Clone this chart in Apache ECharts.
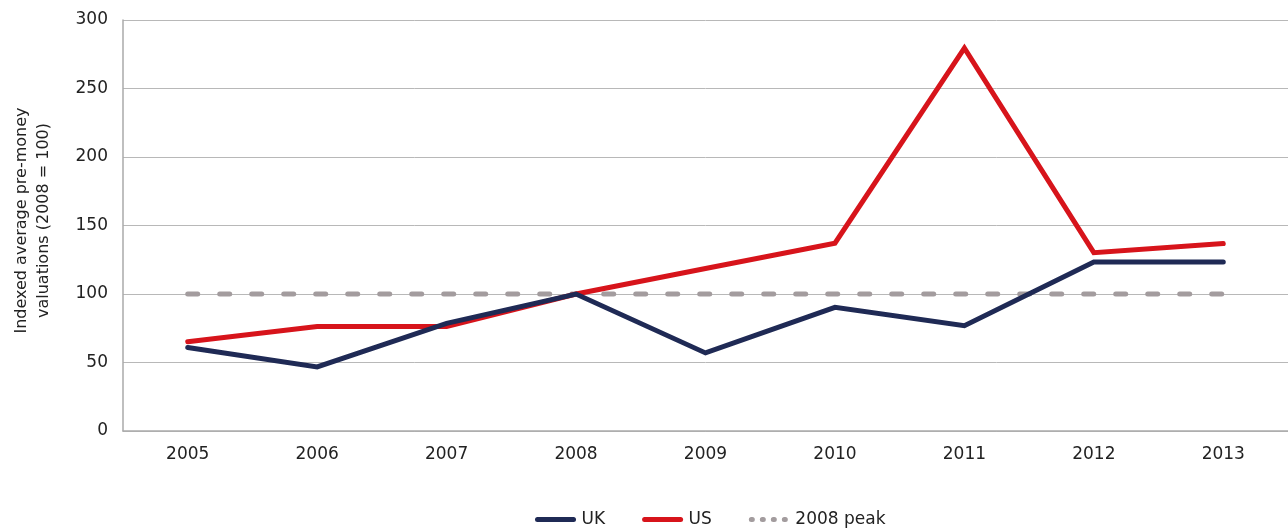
<!DOCTYPE html>
<html><head><meta charset="utf-8">
<script src="https://cdn.jsdelivr.net/npm/echarts@6/dist/echarts.min.js"></script>
<style>html,body{margin:0;padding:0;background:#fff}#c{width:1288px;height:529px}</style>
</head><body><div id="c"></div>
<script>
const years = ['2005','2006','2007','2008','2009','2010','2011','2012','2013'];
const ukValues = [61, 46.8, 78.6, 100, 57, 90.3, 76.8, 123.3, 123.3];
const usValues = [65.2, 76.2, 76.2, 100, 118.6, 137.1, 279.5, 130.2, 136.8];
const peakValues = [100, 100, 100, 100, 100, 100, 100, 100, 100];
const yTicks = [0, 50, 100, 150, 200, 250, 300];

const FONT = 'DejaVu Sans';
const chart = echarts.init(document.getElementById('c'));
chart.setOption({
  animation: false,
  textStyle: { fontFamily: FONT },
  grid: { left: 123, right: 0, top: 20, bottom: 98 },
  legend: {
    top: 506, left: 530,
    itemWidth: 36, itemHeight: 8, itemGap: 37,
    textStyle: { fontSize: 17, color: '#222', fontFamily: FONT, padding: [0, 0, 0, 3] },
    data: [
      { name: 'UK', itemStyle: { opacity: 0 }, lineStyle: { width: 5, cap: 'round' } },
      { name: 'US', itemStyle: { opacity: 0 }, lineStyle: { width: 5, cap: 'round' } },
      { name: '2008 peak', itemStyle: { opacity: 0 }, lineStyle: { type: [1, 10], width: 5, cap: 'round' } }
    ]
  },
  xAxis: {
    type: 'category', data: years, boundaryGap: true,
    axisLine: { show: true, lineStyle: { color: '#aaaaaa', width: 1.5 } },
    axisTick: { show: false },
    axisLabel: { fontSize: 17, color: '#222', margin: 15 }
  },
  yAxis: {
    type: 'value', min: yTicks[0], max: yTicks[yTicks.length - 1], interval: 50,
    name: 'Indexed average pre-money\nvaluations (2008 = 100)',
    nameLocation: 'middle', nameRotate: 90, nameGap: 68,
    nameTextStyle: { fontSize: 16, color: '#222', lineHeight: 22, padding: [0, 0, 0, 10] },
    axisLine: { show: true, lineStyle: { color: '#aaaaaa', width: 1.5 } },
    axisTick: { show: false },
    splitLine: { lineStyle: { color: '#b8b8b8', width: 1 } },
    axisLabel: { fontSize: 17, color: '#222', margin: 15 }
  },
  series: [
    { name: '2008 peak', type: 'line', data: peakValues, symbol: 'none', z: 1,
      lineStyle: { color: '#a39c9e', width: 5, type: [10, 22], cap: 'round' }, itemStyle: { color: '#a39c9e' } },
    { name: 'US', type: 'line', data: usValues, symbol: 'none', z: 2,
      lineStyle: { color: '#d7141b', width: 5, cap: 'round', join: 'miter' }, itemStyle: { color: '#d7141b' } },
    { name: 'UK', type: 'line', data: ukValues, symbol: 'none', z: 3,
      lineStyle: { color: '#1f2a55', width: 5, cap: 'round', join: 'miter' }, itemStyle: { color: '#1f2a55' } }
  ]
});
</script></body></html>
